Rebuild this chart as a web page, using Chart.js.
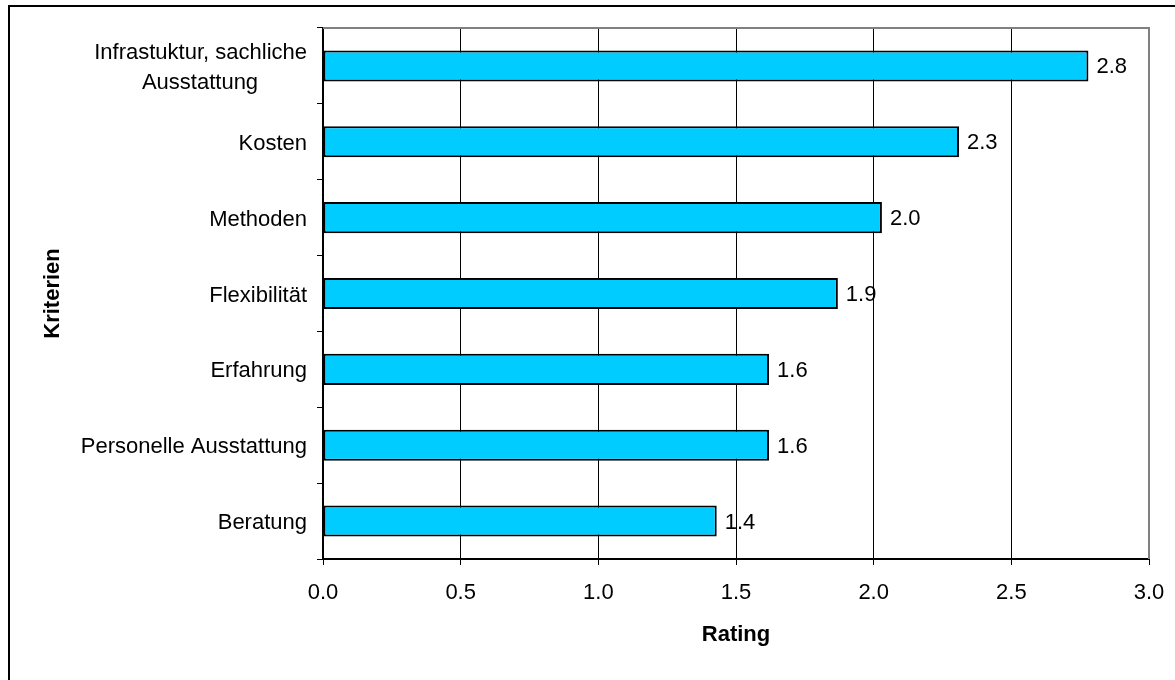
<!DOCTYPE html>
<html>
<head>
<meta charset="utf-8">
<script src="https://cdn.jsdelivr.net/npm/chart.js@4"></script>
<style>
  html, body { margin: 0; padding: 0; background: #fff; overflow: hidden; }
  #wrap { position: relative; width: 1175px; height: 680px; }
  #frame { position: absolute; left: 8px; top: 5px; width: 1300px; height: 800px;
           border-left: 2px solid #000; border-top: 2px solid #000; pointer-events: none; }
  canvas { position: absolute; left: 0; top: 0; }
</style>
</head>
<body>
<div id="wrap">
  <canvas id="c" width="1175" height="680"></canvas>
  <div id="frame"></div>
</div>
<script>
const categories = [
  ['Infrastuktur, sachliche', 'Ausstattung'],
  'Kosten',
  'Methoden',
  'Flexibilität',
  'Erfahrung',
  'Personelle Ausstattung',
  'Beratung'
];
const ratings = [2.78, 2.31, 2.03, 1.87, 1.62, 1.62, 1.43];
const xTicks = [0, 0.5, 1.0, 1.5, 2.0, 2.5, 3.0];
const xTitle = 'Rating';
const yTitle = 'Kriterien';

const FONT = '"Liberation Sans", Arial, sans-serif';
const FS = 22;

// center multi-line tick labels by padding shorter lines with trailing spaces
const mctx = document.createElement('canvas').getContext('2d');
mctx.font = FS + 'px ' + FONT;
function centerLines(lbl) {
  if (!Array.isArray(lbl)) return lbl;
  const widths = lbl.map(l => mctx.measureText(l).width);
  const max = Math.max(...widths);
  const sp = mctx.measureText(' ').width;
  return lbl.map((l, i) => l + ' '.repeat(Math.round((max - widths[i]) / 2 / sp)));
}

const framePlugin = {
  id: 'frameAndLabels',
  afterDatasetsDraw(chart) {
    const {ctx, chartArea: a} = chart;
    ctx.save();
    ctx.strokeStyle = '#808080';
    ctx.lineWidth = 2;
    ctx.beginPath();
    ctx.moveTo(a.left, a.top);
    ctx.lineTo(a.right, a.top);
    ctx.lineTo(a.right, a.bottom);
    ctx.stroke();
    // value labels
    const meta = chart.getDatasetMeta(0);
    ctx.fillStyle = '#000';
    ctx.font = FS + 'px ' + FONT;
    ctx.textAlign = 'left';
    ctx.textBaseline = 'middle';
    meta.data.forEach((bar, i) => {
      ctx.fillText(ratings[i].toFixed(1), bar.x + 8, bar.y + 1.5);
    });
    ctx.restore();
  }
};

new Chart(document.getElementById('c'), {
  type: 'bar',
  data: {
    labels: categories,
    datasets: [{
      data: ratings,
      backgroundColor: '#00CCFF',
      borderColor: '#000000',
      borderWidth: 2,
      borderSkipped: false,
      barPercentage: 0.41,
      categoryPercentage: 1.0
    }]
  },
  options: {
    indexAxis: 'y',
    responsive: false,
    animation: false,
    events: [],
    layout: { padding: { top: 28, right: 26, left: 0, bottom: 0 } },
    plugins: { legend: { display: false }, tooltip: { enabled: false } },
    scales: {
      x: {
        type: 'linear',
        min: 0, max: 3,
        afterBuildTicks: s => { s.ticks = xTicks.map(v => ({value: v})); },
        afterFit: s => { s.height = 121; s.paddingLeft = 0; s.paddingRight = 0; },
        ticks: {
          color: '#000',
          font: { family: FONT, size: FS },
          padding: 15,
          maxRotation: 0,
          callback: v => Number(v).toFixed(1)
        },
        grid: { color: '#000', lineWidth: 1, tickLength: 6, drawTicks: true },
        border: { display: true, color: '#000', width: 2 },
        title: {
          display: true, text: xTitle, color: '#000',
          font: { family: FONT, size: FS, weight: 'bold' },
          padding: { top: 0, bottom: 32 }
        }
      },
      y: {
        afterFit: s => { s.width = 323; s.paddingTop = 0; s.paddingBottom = 0; },
        ticks: {
          color: '#000',
          autoSkip: false,
          padding: 10,
          labelOffset: 2,
          font: { family: FONT, size: FS, lineHeight: 1.33 },
          callback: function(v, i) { return centerLines(categories[i]); }
        },
        grid: { offset: true, drawOnChartArea: false, drawTicks: true, tickLength: 6, color: '#000', lineWidth: 1 },
        border: { display: true, color: '#000', width: 2 },
        title: {
          display: true, text: yTitle, color: '#000',
          font: { family: FONT, size: FS, weight: 'bold' },
          padding: { top: 40, bottom: 0 }
        }
      }
    }
  },
  plugins: [framePlugin]
});
</script>
</body>
</html>
